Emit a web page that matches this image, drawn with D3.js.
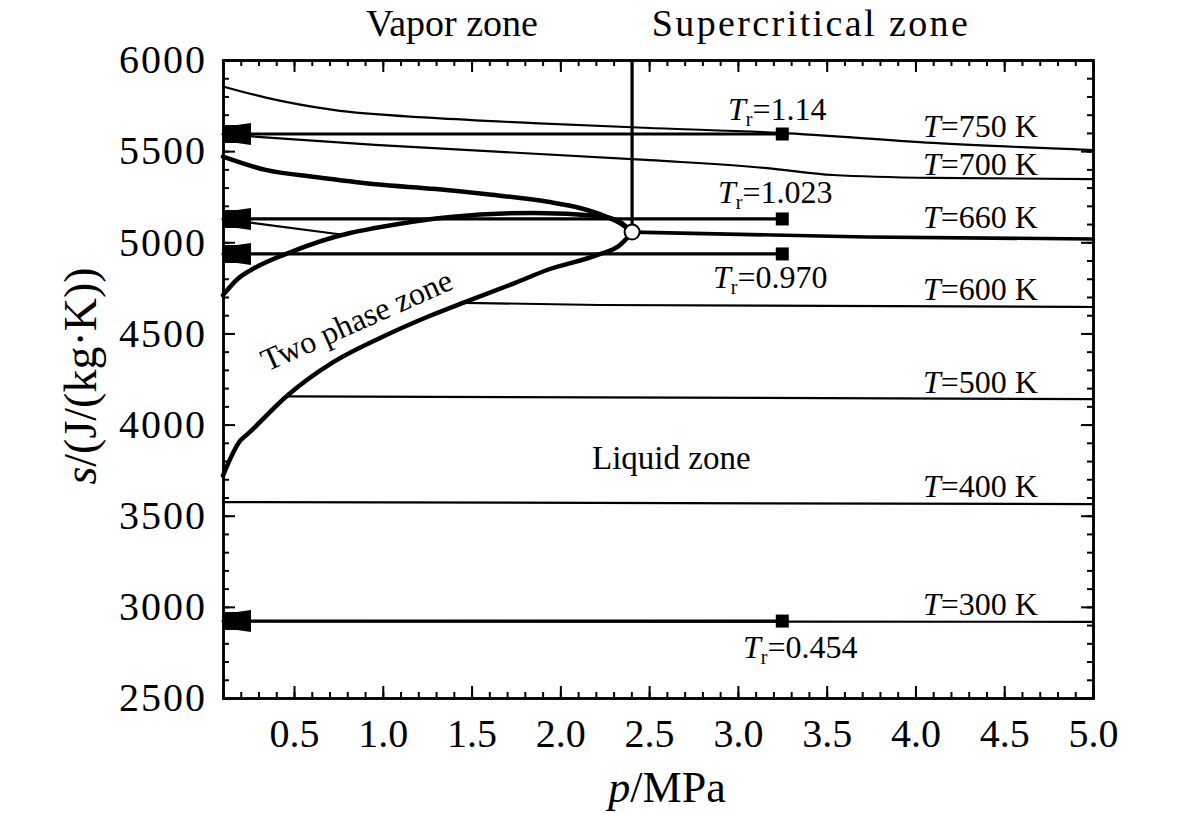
<!DOCTYPE html>
<html>
<head>
    <meta charset="utf-8">
    <title>s-p diagram</title>
    <style type="text/css">
        body {
            margin: 0;
            background-color: #fff;
        }

        text {
            font-family: "Liberation Serif", "Times New Roman", serif;
            fill: #000;
        }

        .axis path,
        .axis line {
            stroke: #000;
        }

        .axis path {
            stroke-width: 2.5;
        }

        .axis line {
            stroke-width: 2;
        }

        .axis text {
            font-size: 40px;
        }

        .curve {
            fill: none;
            stroke: #000;
            stroke-linejoin: round;
            stroke-linecap: round;
        }
    </style>
</head>
<body>
<script src="https://cdn.jsdelivr.net/npm/d3@7/dist/d3.min.js"></script>
<script type="text/javascript">
    //刻度
    var xMajor = [0.5, 1.0, 1.5, 2.0, 2.5, 3.0, 3.5, 4.0, 4.5, 5.0];
    var xMinor = d3.range(1, 51).map(function (d) { return d / 10; });
    var yMajor = [2500, 3000, 3500, 4000, 4500, 5000, 5500, 6000];
    var yMinor = d3.range(25, 61).map(function (d) { return d * 100; });

    //饱和线 (p/MPa, s)
    var upperDome = [[0.1, 5470], [0.34, 5397], [0.62, 5358], [0.96, 5318], [1.3, 5292],
        [1.6, 5262], [1.93, 5222], [2.11, 5188], [2.26, 5140], [2.35, 5096], [2.404, 5056]];
    var middleCurve = [[0.1, 4710], [0.184, 4800], [0.28, 4860], [0.46, 4938], [0.815, 5051],
        [0.956, 5078], [1.38, 5139], [1.85, 5161], [2.22, 5144], [2.336, 5111], [2.404, 5056]];
    var lowerDome = [[0.1, 3720], [0.196, 3910], [0.241, 3950], [0.466, 4162], [0.714, 4338],
        [0.996, 4480], [1.277, 4601], [1.463, 4672], [1.745, 4777], [1.925, 4848],
        [2.206, 4930], [2.336, 4985], [2.381, 5029], [2.404, 5056]];

    //等温线
    var t750 = [[0.1, 5855], [0.348, 5792], [0.72, 5726], [1.283, 5682], [1.846, 5654],
        [2.505, 5627], [3.237, 5600], [4.099, 5545], [5.0, 5506]];
    var t700 = [[0.1, 5592], [0.956, 5534], [2.505, 5451], [3.164, 5407], [3.536, 5369],
        [4.099, 5353], [5.0, 5347]];
    var t660Vapor = [[0.1, 5128], [0.787, 5040]];
    var t660Super = [[2.404, 5056], [3.727, 5029], [5.0, 5018]];
    var t600 = [[1.463, 4668], [2.223, 4656], [5.0, 4645]];
    var t500 = [[0.466, 4155], [5.0, 4140]];
    var t400 = [[0.1, 3575], [5.0, 3564]];
    var t300 = [[0.1, 2922], [5.0, 2918]];

    //对比温度线
    var trValues = ["1.14", "1.023", "0.970", "0.454"];
    var trS = [5594, 5128, 4936, 2922];
    var trStart = 0.1, trEnd = 3.25;

    //临界点
    var critical = [2.404, 5056];

    var width = 1181, height = 813;
    var mLeft = 223, mRight = 1093, mTop = 60, mBottom = 698;

    var svg = d3.select("body")
        .append("svg")
        .attr("width", width)
        .attr("height", height);

    var x = d3.scaleLinear().domain([0.1, 5.0]).range([mLeft, mRight]);
    var y = d3.scaleLinear().domain([2500, 6000]).range([mBottom, mTop]);

    var line = d3.line()
        .x(function (d) { return x(d[0]); })
        .y(function (d) { return y(d[1]); })
        .curve(d3.curveMonotoneX);

    var plot = svg.append("g");

    //细等温线
    [t750, t700, t660Vapor, t600, t500, t400, t300].forEach(function (c) {
        plot.append("path").attr("class", "curve").attr("d", line(c)).attr("stroke-width", 2.2);
    });

    //对比温度线
    plot.selectAll(".tr")
        .data(trS)
        .enter()
        .append("path")
        .attr("class", "curve tr")
        .attr("stroke-width", 3.2)
        .attr("d", function (d) { return line([[trStart, d], [trEnd, d]]); });

    //饱和线和临界等温线
    [upperDome, middleCurve, lowerDome].forEach(function (c) {
        plot.append("path").attr("class", "curve").attr("d", line(c)).attr("stroke-width", 4.5);
    });
    plot.append("path").attr("class", "curve").attr("d", line(t660Super)).attr("stroke-width", 3.6);

    //竖线
    plot.append("line")
        .attr("x1", x(critical[0])).attr("x2", x(critical[0]))
        .attr("y1", y(6000)).attr("y2", y(critical[1]))
        .attr("stroke", "#000").attr("stroke-width", 3.2);

    //方块
    plot.selectAll(".sq")
        .data(trS)
        .enter()
        .append("rect")
        .attr("x", x(trEnd) - 6.5)
        .attr("y", function (d) { return y(d) - 6.5; })
        .attr("width", 13).attr("height", 13)
        .attr("fill", "#000");

    //左端箭头
    plot.selectAll(".arrow")
        .data(trS)
        .enter()
        .append("path")
        .attr("fill", "#000")
        .attr("d", function (d) {
            var cx = x(trStart), cy = y(d);
            return "M" + cx + "," + (cy - 9) + "L" + (cx + 14) + "," + (cy - 9) +
                "L" + (cx + 28) + "," + (cy - 11) + "L" + (cx + 28) + "," + (cy + 11) +
                "L" + (cx + 14) + "," + (cy + 9) + "L" + cx + "," + (cy + 9) + "Z";
        });

    plot.append("circle")
        .attr("cx", x(critical[0])).attr("cy", y(critical[1]))
        .attr("r", 7.5)
        .attr("fill", "#fff").attr("stroke", "#000").attr("stroke-width", 2);

    //坐标轴
    function noLabel() { return ""; }

    svg.append("g").attr("class", "axis")
        .attr("transform", "translate(0," + mBottom + ")")
        .call(d3.axisBottom(x).tickValues(xMinor).tickSize(-6).tickFormat(noLabel));
    svg.append("g").attr("class", "axis")
        .attr("transform", "translate(0," + mBottom + ")")
        .call(d3.axisBottom(x).tickValues(xMajor).tickSize(-12).tickSizeOuter(0).tickPadding(21)
            .tickFormat(d3.format(".1f")));
    svg.append("g").attr("class", "axis")
        .attr("transform", "translate(0," + mTop + ")")
        .call(d3.axisTop(x).tickValues(xMinor).tickSize(-6).tickFormat(noLabel));
    svg.append("g").attr("class", "axis")
        .attr("transform", "translate(0," + mTop + ")")
        .call(d3.axisTop(x).tickValues(xMajor).tickSize(-12).tickSizeOuter(0).tickFormat(noLabel));

    svg.append("g").attr("class", "axis")
        .attr("transform", "translate(" + mLeft + ",0)")
        .call(d3.axisLeft(y).tickValues(yMinor).tickSize(-6).tickFormat(noLabel));
    svg.append("g").attr("class", "axis axis-y")
        .attr("transform", "translate(" + mLeft + ",0)")
        .call(d3.axisLeft(y).tickValues(yMajor).tickSize(-12).tickSizeOuter(0).tickPadding(16)
            .tickFormat(d3.format("d")));
    svg.selectAll(".axis-y text").style("letter-spacing", "2px");
    svg.append("g").attr("class", "axis")
        .attr("transform", "translate(" + mRight + ",0)")
        .call(d3.axisRight(y).tickValues(yMinor).tickSize(-6).tickFormat(noLabel));
    svg.append("g").attr("class", "axis")
        .attr("transform", "translate(" + mRight + ",0)")
        .call(d3.axisRight(y).tickValues(yMajor).tickSize(-12).tickSizeOuter(0).tickFormat(noLabel));

    //轴标题
    var xt = svg.append("text")
        .attr("x", 667).attr("y", 802)
        .attr("text-anchor", "middle")
        .style("font-size", "44px");
    xt.append("tspan").style("font-style", "italic").text("p");
    xt.append("tspan").text("/MPa");

    var yt = svg.append("text")
        .attr("transform", "translate(96,376) rotate(-90)")
        .attr("text-anchor", "middle")
        .style("font-size", "46px");
    yt.append("tspan").style("font-style", "italic").text("s");
    yt.append("tspan").text("/(J/(kg·K))");

    //区域标注
    svg.append("text").attr("x", 452).attr("y", 36).attr("text-anchor", "middle")
        .style("font-size", "38px").text("Vapor zone");
    svg.append("text").attr("x", 811).attr("y", 36).attr("text-anchor", "middle")
        .style("font-size", "38px").style("letter-spacing", "2.4px").text("Supercritical zone");
    svg.append("text").attr("x", 592).attr("y", 469)
        .style("font-size", "33px").text("Liquid zone");
    svg.append("text").attr("transform", "translate(361,330) rotate(-24)")
        .attr("text-anchor", "middle")
        .style("font-size", "32px").text("Two phase zone");

    //温度标注
    var tLabels = [["750", 137], ["700", 175], ["660", 228], ["600", 300], ["500", 393], ["400", 497], ["300", 615]];
    tLabels.forEach(function (d) {
        var t = svg.append("text").attr("x", 923).attr("y", d[1]).style("font-size", "32px");
        t.append("tspan").style("font-style", "italic").text("T");
        t.append("tspan").text("=" + d[0] + " K");
    });

    var trPos = [[728, 120], [718, 203], [713, 288], [743, 658]];
    trValues.forEach(function (v, i) {
        var t = svg.append("text").attr("x", trPos[i][0]).attr("y", trPos[i][1]).style("font-size", "32px");
        t.append("tspan").style("font-style", "italic").text("T");
        t.append("tspan").attr("dy", 6).style("font-size", "20px").text("r");
        t.append("tspan").attr("dy", -6).text("=" + v);
    });
</script>
</body>
</html>
